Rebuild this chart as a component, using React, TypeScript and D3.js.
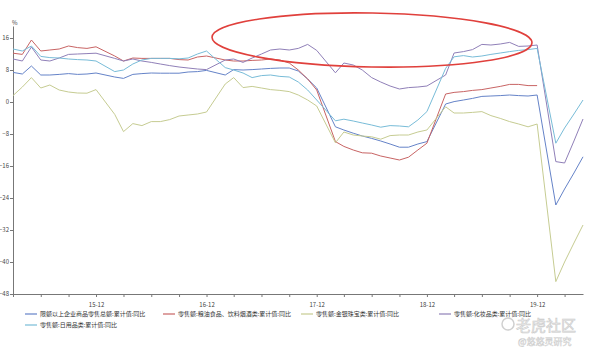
import * as d3 from 'd3';
import { useEffect, useRef } from 'react';

// months with data (Jan is merged into Feb, so there is no January point)
const months = [
  '2015-03', '2015-04', '2015-05', '2015-06', '2015-07', '2015-08', '2015-09', '2015-10', '2015-11', '2015-12',
  '2016-02', '2016-03', '2016-04', '2016-05', '2016-06', '2016-07', '2016-08', '2016-09', '2016-10', '2016-11', '2016-12',
  '2017-02', '2017-03', '2017-04', '2017-05', '2017-06', '2017-07', '2017-08', '2017-09', '2017-10', '2017-11', '2017-12',
  '2018-02', '2018-03', '2018-04', '2018-05', '2018-06', '2018-07', '2018-08', '2018-09', '2018-10', '2018-11', '2018-12',
  '2019-02', '2019-03', '2019-04', '2019-05', '2019-06', '2019-07', '2019-08', '2019-09', '2019-10', '2019-11', '2019-12',
  '2020-02', '2020-03', '2020-04', '2020-05',
];

const totalRetail = [
  7.4, 7.0, 9.0, 6.75, 6.75, 6.9, 7.1, 6.9, 7.0, 7.25,
  6.25, 5.9, 6.9, 7.1, 7.25, 7.2, 7.2, 7.2, 7.5, 7.6, 7.9,
  6.75, 8.1, 8.0, 8.1, 8.25, 8.4, 8.5, 8.5, 7.75, 5.75, 3.5,
  -6.2, -7.0, -7.8, -8.5, -9.1, -9.75, -10.5, -11.3, -11.3, -10.5, -9.9,
  -0.5, 0.1, 0.5, 0.9, 1.4, 1.5, 1.6, 1.75, 1.6, 1.5, 1.75,
  -25.75, -21.75, -17.75, -13.7,
];

const foodDrink = [
  12.2, 11.9, 15.5, 12.75, 13.0, 13.25, 14.0, 13.6, 13.4, 13.8,
  11.5, 10.25, 11.0, 10.9, 10.9, 10.9, 10.9, 10.6, 10.5, 11.25, 11.5,
  10.5, 10.25, 10.25, 10.4, 10.5, 10.75, 10.5, 9.75, 8.0, 5.75, 3.0,
  -9.9, -11.1, -12.0, -12.7, -12.8, -13.5, -14.0, -14.5, -13.8, -12.0, -10.3,
  2.0, 2.4, 2.6, 2.9, 3.1, 3.5, 3.9, 4.4, 4.4, 4.1, 4.1,
  null, null, null, null,
];

const jewelry = [
  1.6, 3.75, 6.1, 3.5, 4.25, 3.0, 2.5, 2.25, 2.2, 3.1,
  -3.1, -7.4, -5.4, -5.9, -4.9, -4.9, -4.4, -3.5, -3.25, -3.0, -2.5,
  4.5, 6.1, 3.6, 3.9, 3.5, 3.1, 2.9, 2.6, 1.75, 0.5, -1.0,
  -10.2, -7.5, -8.25, -8.5, -8.7, -9.3, -8.4, -8.25, -8.25, -7.5, -7.0,
  -1.2, -2.75, -2.75, -2.6, -2.4, -3.4, -4.1, -4.9, -5.5, -6.2, -5.5,
  -44.9, -40.0, -35.25, -30.75,
];

const cosmetics = [
  10.75, 10.25, 13.75, 10.5, 10.25, 11.0, 11.9, 12.0, 12.1, 12.2,
  10.9, 10.25, 10.75, 10.25, 9.9, 9.5, 9.1, 8.75, 8.5, 8.25, 8.1,
  10.5, 10.75, 9.9, 11.0, 12.0, 13.0, 13.25, 13.0, 13.4, 14.4, 12.9,
  7.3, 9.75, 9.25, 8.0, 6.1, 5.0, 4.0, 3.25, 3.6, 3.75, 4.0,
  6.75, 12.25, 12.6, 13.1, 14.4, 14.25, 14.5, 14.9, 13.9, 14.0, 14.25,
  -14.9, -15.25, -9.75, -4.25,
];

const dailyUse = [
  13.25, 12.75, 14.0, 11.4, 11.1, 11.0, 10.75, 10.6, 10.5, 10.25,
  7.6, 8.0, 9.5, 10.5, 10.9, 10.9, 10.9, 10.8, 11.0, 12.0, 12.75,
  8.6, 8.0, 7.25, 6.1, 6.6, 6.75, 6.4, 6.25, 5.0, 3.0, 0.5,
  -4.7, -4.3, -4.75, -5.25, -5.75, -6.3, -5.9, -6.0, -6.2, -4.5, -2.4,
  8.4, 11.3, 11.6, 11.25, 11.5, 11.9, 12.25, 12.6, 12.9, 13.1, 13.4,
  -10.3, -6.5, -3.0, 0.5,
];

const seriesNames = [
  '限额以上企业商品零售总额:累计值:同比',
  '零售额:粮油食品、饮料烟酒类:累计值:同比',
  '零售额:金银珠宝类:累计值:同比',
  '零售额:化妆品类:累计值:同比',
  '零售额:日用品类:累计值:同比',
];
const seriesColors = ['#6583c8', '#c86464', '#c6cc92', '#9080b8', '#78bcd8'];
const seriesValues = [totalRetail, foodDrink, jewelry, cosmetics, dailyUse];

const yTicks = [-48, -40, -32, -24, -16, -8, 0, 8, 16];

const font = '"Noto Sans CJK SC", "Noto Sans", sans-serif';

const App = () => {
  const ref = useRef<SVGSVGElement>(null);

  useEffect(() => {
    const width = 593;
    const height = 352;
    const svg = d3.select(ref.current);
    svg.selectAll('*').remove();
    svg.attr('width', width).attr('height', height);

    const parse = d3.timeParse('%Y-%m');
    const dates = months.map(m => parse(m) as Date);

    const x = d3.scaleTime()
      .domain([dates[0], dates[dates.length - 1]])
      .range([13, 583]);
    const y = d3.scaleLinear().domain([-48, 19]).range([294, 26]);

    // axes
    const xTickDates = d3.timeMonth
      .filter(d => d.getMonth() % 3 === 2)
      .range(dates[0], d3.timeMonth.offset(dates[dates.length - 1], 1));
    const fmt = d3.timeFormat('%y-%m');
    const xAxis = svg.append('g')
      .attr('transform', 'translate(0,294)')
      .call(d3.axisBottom(x).tickValues(xTickDates).tickSize(3).tickSizeOuter(0)
        .tickFormat(d => ((d as Date).getMonth() === 11 ? fmt(d as Date) : '')));
    const yAxis = svg.append('g')
      .attr('transform', 'translate(13,0)')
      .call(d3.axisLeft(y).tickValues(yTicks).tickSize(3).tickSizeOuter(0).tickFormat(d3.format('d')));

    [xAxis, yAxis].forEach(a => {
      a.select('.domain').attr('stroke', '#777');
      a.selectAll('.tick line').attr('stroke', '#777');
      a.selectAll('text').attr('fill', '#444').style('font-size', '6px').style('font-family', font);
    });
    xAxis.selectAll('text').attr('dy', '1.1em');
    yAxis.selectAll('text').attr('x', -4);

    svg.append('text')
      .attr('x', 12).attr('y', 25)
      .attr('fill', '#444')
      .style('font-size', '6px').style('font-family', font)
      .text('%');

    // lines
    const line = d3.line<number | null>()
      .defined(d => d != null)
      .x((d, i) => x(dates[i]))
      .y(d => y(d as number));

    seriesValues.forEach((vals, i) => {
      svg.append('path')
        .datum(vals)
        .attr('fill', 'none')
        .attr('stroke', seriesColors[i])
        .attr('stroke-width', 1)
        .attr('d', line);
    });

    // highlight ellipse
    svg.append('ellipse')
      .attr('cx', 372).attr('cy', 40)
      .attr('rx', 160).attr('ry', 27)
      .attr('transform', 'rotate(1,372,40)')
      .attr('fill', 'none')
      .attr('stroke', '#e0403c')
      .attr('stroke-width', 1.6);

    // legend
    const legend = svg.append('g');
    seriesNames.forEach((name, i) => {
      const col = i % 4;
      const row = Math.floor(i / 4);
      const lx = 25 + col * 138;
      const ly = 314 + row * 11;
      legend.append('line')
        .attr('x1', lx).attr('x2', lx + 12)
        .attr('y1', ly).attr('y2', ly)
        .attr('stroke', seriesColors[i])
        .attr('stroke-width', 1.2);
      legend.append('text')
        .attr('x', lx + 15).attr('y', ly + 2)
        .attr('fill', '#333')
        .style('font-size', '6px').style('font-family', font)
        .text(name);
    });

    // watermark
    const wm = svg.append('g').attr('opacity', 0.8);
    wm.append('circle').attr('cx', 508).attr('cy', 324).attr('r', 6)
      .attr('fill', 'none').attr('stroke', '#c4c4c4').attr('stroke-width', 1.5);
    wm.append('text').attr('x', 516).attr('y', 331)
      .attr('fill', '#f2f2f2').attr('stroke', '#bdbdbd').attr('stroke-width', 0.6)
      .style('font-size', '15px').style('font-family', font)
      .text('老虎社区');
    wm.append('text').attr('x', 518).attr('y', 345)
      .attr('fill', '#f2f2f2').attr('stroke', '#bdbdbd').attr('stroke-width', 0.4)
      .style('font-size', '9px').style('font-family', font)
      .text('@悠悠灵研究');
  }, []);

  return (
    <div style={{ position: 'absolute', left: 0, top: 0, background: '#fff' }}>
      <svg ref={ref}></svg>
    </div>
  );
};

export default App;
